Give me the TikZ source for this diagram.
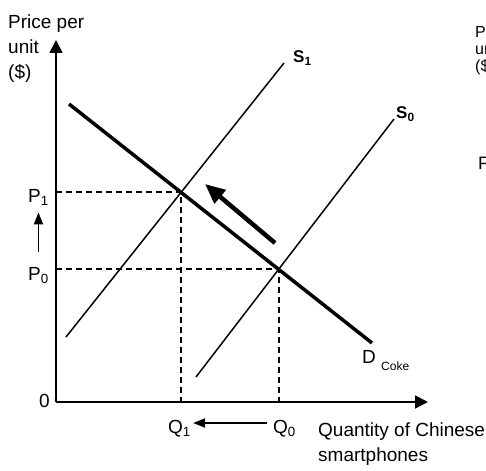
\documentclass[tikz,border=0pt]{standalone}
\usepackage{fontspec}
\setmainfont{Liberation Sans}
\usetikzlibrary{arrows.meta}

\begin{document}
\begin{tikzpicture}[x=1pt,y=-1pt,
  axis/.style={line width=1.8pt,-{Triangle[length=13pt,width=13pt]}},
  supply/.style={line width=1.5pt},
  demand/.style={line width=3.5pt},
  guide/.style={line width=2pt,dash pattern=on 6pt off 4pt},
  move/.style={line width=1.8pt,-{Triangle[length=12pt,width=9pt]}},
  bigmove/.style={line width=4.5pt,-{Triangle[length=20pt,width=17pt]}},
  lbl/.style={inner sep=0pt,anchor=base west,font=\fontsize{19}{25}\selectfont},
  slbl/.style={inner sep=0pt,anchor=base west,font=\fontsize{17}{20}\selectfont\bfseries}]
\useasboundingbox (0,0) rectangle (486,470);
% axes
\coordinate (O) at (56,402);
\coordinate (ytop) at (56,40);
\coordinate (xend) at (428,402);
\draw[axis] (O) -- (ytop);
\draw[axis] (O) -- (xend);
% demand and supply
\coordinate (d1) at (69,104);
\coordinate (d2) at (372,343);
\coordinate (s1a) at (66,337);
\coordinate (s1b) at (284,63);
\coordinate (s0a) at (196,377);
\coordinate (s0b) at (394,119);
\draw[demand] (d1) -- (d2);
\draw[supply] (s1a) -- (s1b);
\draw[supply] (s0a) -- (s0b);
\coordinate (E1) at (intersection of d1--d2 and s1a--s1b);
\coordinate (E0) at (intersection of d1--d2 and s0a--s0b);
% guides
\draw[guide] (O |- E1) -- (E1) -- (E1 |- O);
\draw[guide] (O |- E0) -- (E0) -- (E0 |- O);
% movement along D
\coordinate (ar1) at (275,243);
\coordinate (ar2) at (205,184);
\draw[bigmove] (ar1) -- (ar2);
% labels
\node[lbl,align=left,anchor=north west] (ylab) at (8,15) {Price per\\unit\\(\$)};
\node[lbl,align=left,anchor=north west] (xlab) at (318,423) {Quantity of Chinese\\smartphones};
\node[lbl] (p1) at (28,202) {P\textsubscript{1}};
\node[lbl] (p0) at (28,280) {P\textsubscript{0}};
\node[lbl] (q1) at (168,433) {Q\textsubscript{1}};
\node[lbl] (q0) at (273,433) {Q\textsubscript{0}};
\node[lbl] (zero) at (39,407) {0};
\node[lbl] (dlab) at (362,363) {D \raisebox{-7pt}{\fontsize{12}{14}\selectfont Coke}};
\node[slbl] (s1lab) at (293,63) {S\textsubscript{1}};
\node[slbl] (s0lab) at (396,119) {S\textsubscript{0}};
\draw[move] ([yshift=15pt]p0.north) -- ([yshift=-7pt]p1.south);
\draw[move] ([xshift=-6pt,yshift=10pt]q0.base west) -- ([xshift=2pt,yshift=10pt]q1.base east);
% next panel, cut off at the edge
\begin{scope}
\clip (0,0) rectangle (486,470);
\node[inner sep=0pt,anchor=north west,align=left,font=\fontsize{16}{17}\selectfont] (ylab2) at (475,26) {Price per\\unit\\(\$)};
\node[inner sep=0pt,anchor=base west,font=\fontsize{18}{20}\selectfont] (p2) at (478,170) {P\textsubscript{1}};
\end{scope}
\end{tikzpicture}
\end{document}
